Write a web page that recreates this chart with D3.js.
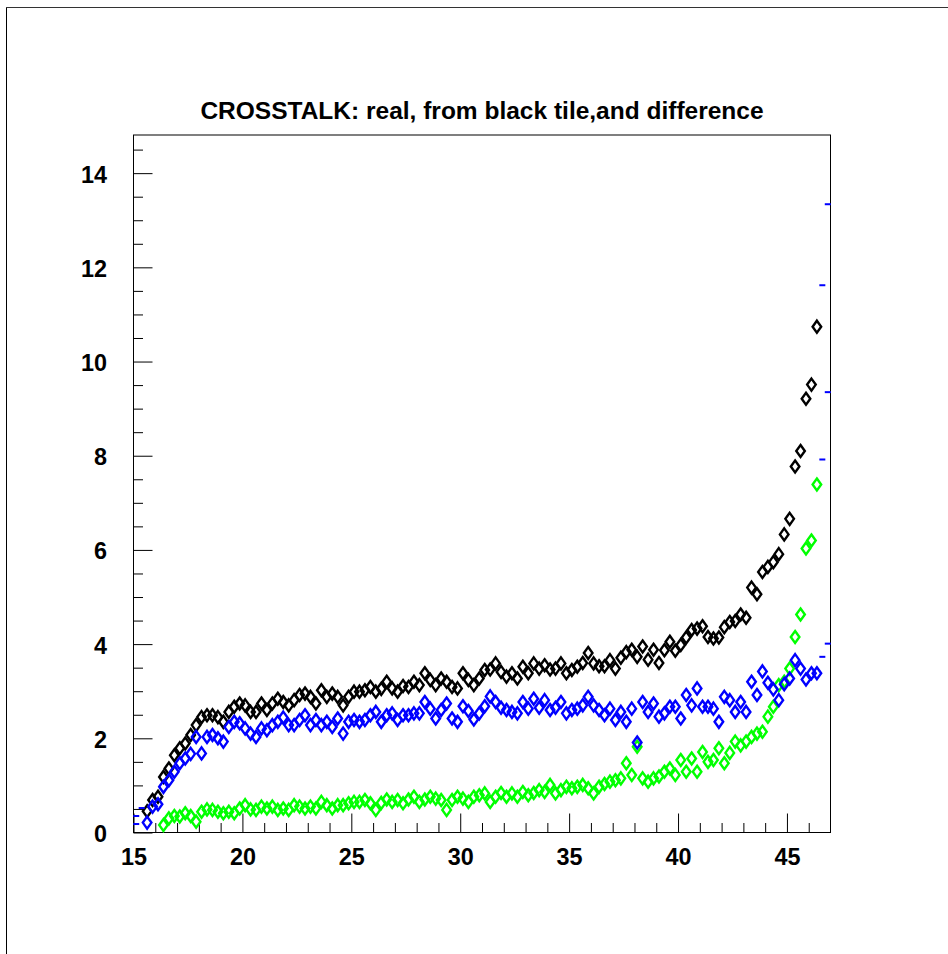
<!DOCTYPE html>
<html><head><meta charset="utf-8">
<script src="https://cdn.jsdelivr.net/npm/d3@7"></script>
<style>html,body{margin:0;padding:0;background:#fff;} svg{display:block;}</style>
</head><body>
<svg id="c" width="948" height="954"></svg>
<script>
const titleText = "CROSSTALK: real, from black tile,and difference";

const binCenters = [
15.625,15.875,16.125,16.375,16.625,16.875,17.125,17.375,17.625,17.875,
18.125,18.375,18.625,18.875,19.125,19.375,19.625,19.875,20.125,20.375,
20.625,20.875,21.125,21.375,21.625,21.875,22.125,22.375,22.625,22.875,
23.125,23.375,23.625,23.875,24.125,24.375,24.625,24.875,25.125,25.375,
25.625,25.875,26.125,26.375,26.625,26.875,27.125,27.375,27.625,27.875,
28.125,28.375,28.625,28.875,29.125,29.375,29.625,29.875,30.125,30.375,
30.625,30.875,31.125,31.375,31.625,31.875,32.125,32.375,32.625,32.875,
33.125,33.375,33.625,33.875,34.125,34.375,34.625,34.875,35.125,35.375,
35.625,35.875,36.125,36.375,36.625,36.875,37.125,37.375,37.625,37.875,
38.125,38.375,38.625,38.875,39.125,39.375,39.625,39.875,40.125,40.375,
40.625,40.875,41.125,41.375,41.625,41.875,42.125,42.375,42.625,42.875,
43.125,43.375,43.625,43.875,44.125,44.375,44.625,44.875,45.125,45.375,
45.625,45.875,46.125,46.375];

// black: real crosstalk
const realCrosstalk = [
0.45,0.69,0.76,1.18,1.36,1.64,1.79,1.89,2.07,2.28,
2.45,2.49,2.49,2.45,2.35,2.56,2.67,2.74,2.70,2.56,
2.56,2.74,2.60,2.74,2.84,2.77,2.70,2.81,2.92,2.95,
2.88,2.74,3.02,2.88,2.95,2.88,2.70,2.88,2.99,2.99,
3.02,3.09,2.99,3.05,3.20,3.06,2.99,3.11,3.09,3.20,
3.13,3.38,3.24,3.13,3.27,3.20,3.09,3.06,3.38,3.24,
3.13,3.27,3.45,3.46,3.59,3.41,3.31,3.38,3.27,3.52,
3.38,3.59,3.48,3.55,3.46,3.48,3.59,3.38,3.45,3.52,
3.60,3.81,3.59,3.53,3.53,3.66,3.48,3.71,3.83,3.88,
3.73,3.95,3.67,3.88,3.60,3.87,4.05,3.86,3.98,4.14,
4.30,4.33,4.38,4.15,4.12,4.14,4.36,4.47,4.49,4.63,
4.56,5.20,5.06,5.53,5.64,5.74,5.91,6.33,6.66,7.77,
8.10,9.21,9.51,10.74];

// blue: from black tile
const fromBlackTile = [
0.21,0.55,0.60,0.97,1.11,1.29,1.47,1.57,1.67,2.03,
1.68,2.03,2.07,2.00,1.93,2.24,2.35,2.32,2.21,2.10,
2.03,2.21,2.17,2.28,2.35,2.44,2.28,2.28,2.39,2.49,
2.28,2.39,2.28,2.35,2.24,2.42,2.10,2.35,2.39,2.35,
2.39,2.49,2.56,2.35,2.49,2.53,2.39,2.49,2.49,2.53,
2.53,2.77,2.63,2.42,2.60,2.74,2.42,2.35,2.68,2.58,
2.40,2.53,2.68,2.89,2.77,2.65,2.60,2.56,2.53,2.77,
2.63,2.84,2.65,2.81,2.60,2.65,2.77,2.53,2.60,2.63,
2.70,2.88,2.70,2.60,2.49,2.63,2.39,2.56,2.35,2.63,
1.91,2.77,2.56,2.74,2.46,2.53,2.67,2.67,2.42,2.92,
2.70,3.06,2.67,2.67,2.63,2.35,2.88,2.81,2.56,2.77,
2.56,3.20,2.92,3.42,3.18,3.04,2.81,3.15,3.27,3.66,
3.48,3.25,3.38,3.38];

// green: difference
const difference = [
null,null,null,0.16,0.30,0.35,0.34,0.41,0.35,0.23,
0.44,0.49,0.48,0.44,0.41,0.44,0.41,0.51,0.58,0.49,
0.48,0.55,0.51,0.55,0.48,0.51,0.48,0.58,0.55,0.51,
0.55,0.51,0.65,0.58,0.51,0.58,0.58,0.62,0.65,0.65,
0.69,0.62,0.48,0.63,0.70,0.65,0.69,0.62,0.70,0.76,
0.65,0.70,0.76,0.72,0.69,0.48,0.69,0.76,0.72,0.65,
0.76,0.79,0.83,0.65,0.76,0.84,0.76,0.83,0.76,0.86,
0.79,0.84,0.90,0.86,1.01,0.83,0.90,0.97,0.94,0.97,
1.01,0.94,0.83,0.97,1.03,1.08,1.11,1.15,1.47,1.22,
1.82,1.15,1.08,1.15,1.19,1.29,1.36,1.22,1.54,1.29,
1.57,1.29,1.71,1.50,1.54,1.79,1.47,1.69,1.93,1.85,
1.93,2.03,2.10,2.14,2.46,2.67,3.13,3.20,3.48,4.15,
4.63,6.03,6.20,7.39];

// extra blue dash markers
const dashX = [46.875,46.625,46.875,46.625,46.875,46.625,15.375,15.125,15.125];
const dashY = [13.34,11.62,9.35,7.92,4.01,3.73,0.52,0.35,0.18];

const xTicks = [15,20,25,30,35,40,45];
const yTicks = [0,2,4,6,8,10,12,14];

const svg = d3.select("#c");
const FONT = "'Liberation Sans', Arial, Helvetica, sans-serif";

// pad border (left and top visible)
svg.append("line").attr("x1",6.5).attr("x2",6.5).attr("y1",7).attr("y2",954).attr("stroke","#000");
svg.append("line").attr("x1",6).attr("x2",948).attr("y1",7.5).attr("y2",7.5).attr("stroke","#333");

const x = d3.scaleLinear().domain([15,47]).range([133.5,830.5]);
const y = d3.scaleLinear().domain([0,14.81]).range([832.5,135]);

// frame
svg.append("rect").attr("x",133.5).attr("y",135).attr("width",697).attr("height",697.5)
  .attr("fill","none").attr("stroke","#000").attr("stroke-width",1);

// x axis
const gx = svg.append("g").attr("transform","translate(0,832.5)");
gx.call(d3.axisBottom(x).tickValues(d3.range(16,47,1).filter(v=>v%5!==0)).tickSizeInner(-9.5).tickSizeOuter(0).tickFormat(""));
gx.call(g=>g.select(".domain").remove());
const gx2 = svg.append("g").attr("transform","translate(0,832.5)");
gx2.call(d3.axisBottom(x).tickValues(xTicks).tickSizeInner(-19).tickSizeOuter(0).tickPadding(15.5));
gx2.select(".domain").remove();
gx2.selectAll("text").attr("font-family",FONT).attr("font-weight","bold").attr("font-size","23.4px").attr("fill","#000");

// y axis
const gy = svg.append("g").attr("transform","translate(133.5,0)");
gy.call(d3.axisLeft(y).tickValues(d3.range(0.5,14.81,0.5).filter(v=>v%2!==0)).tickSizeInner(-9.5).tickSizeOuter(0).tickFormat(""));
gy.select(".domain").remove();
const gy2 = svg.append("g").attr("transform","translate(133.5,0)");
gy2.call(d3.axisLeft(y).tickValues(yTicks).tickSizeInner(-19).tickSizeOuter(0).tickPadding(26.5));
gy2.select(".domain").remove();
gy2.selectAll("text").attr("font-family",FONT).attr("font-weight","bold").attr("font-size","23.4px").attr("fill","#000").attr("dy","0.38em");
svg.selectAll(".tick line").attr("stroke","#000");

// title
svg.append("text").attr("x",482).attr("y",119).attr("text-anchor","middle")
  .attr("font-family",FONT).attr("font-weight","bold").attr("font-size","24.5px").text(titleText);

// markers
const diamond = "M0,-6L4.3,0L0,6L-4.3,0Z";
function drawSeries(vals, color){
  const pts = binCenters.map((b,i)=>({x:b,y:vals[i]})).filter(d=>d.y!==null);
  svg.append("g").selectAll("path").data(pts).join("path")
    .attr("d",diamond)
    .attr("transform",d=>`translate(${x(d.x)},${y(d.y)})`)
    .attr("fill","none").attr("stroke",color).attr("stroke-width",2.4);
}
drawSeries(realCrosstalk,"#000000");
drawSeries(difference,"#00ff00");
drawSeries(fromBlackTile,"#0000ff");

svg.append("g").selectAll("rect").data(dashX.map((d,i)=>({x:d,y:dashY[i]}))).join("rect")
  .attr("x",d=>x(d.x)-3).attr("y",d=>y(d.y)-1).attr("width",6).attr("height",2).attr("fill","#0000ff");
</script>
</body></html>
